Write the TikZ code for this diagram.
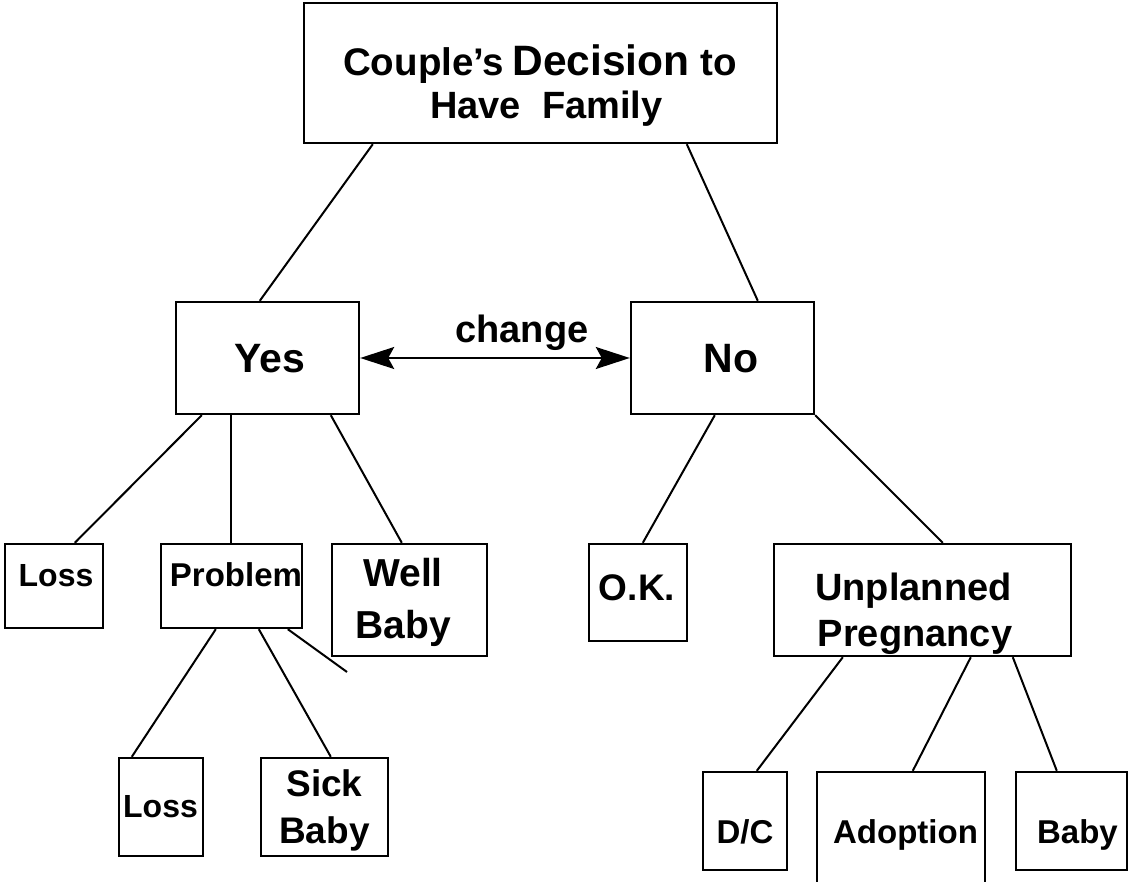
\documentclass[tikz,border=0pt]{standalone}
\usepackage{fontspec}
\setmainfont{Liberation Sans}
\usetikzlibrary{arrows.meta}
\tikzset{
  box/.style 2 args={draw, rectangle, line width=2.4pt, inner sep=0pt, minimum width=#1, minimum height=#2},
  lbl/.style={inner sep=0pt, anchor=base, font=\bfseries\fontsize{#1}{#1}\selectfont},
  conn/.style={line width=2pt},
  harrow/.style={line width=2pt, {Stealth[length=34pt,width=22pt,inset=6pt]}-{Stealth[length=34pt,width=22pt,inset=6pt]}}
}
\begin{document}
\begin{tikzpicture}[x=1pt,y=-1pt]
\useasboundingbox (0,0) rectangle (1128,882);
\clip (0,0) rectangle (1128,882);
\fill[white] (0,0) rectangle (1128,882);

% boxes
\node[box={473pt}{140pt}] (top) at (540.5,73) {};
\node[box={183pt}{112pt}] (yes) at (267.5,358) {};
\node[box={183pt}{112pt}] (no) at (722.5,358) {};
\node[box={98pt}{84pt}] (loss1) at (54,586) {};
\node[box={141pt}{84pt}] (problem) at (231.5,586) {};
\node[box={155pt}{112pt}] (well) at (409.5,600) {};
\node[box={84pt}{98pt}] (loss2) at (161,807) {};
\node[box={127pt}{98pt}] (sick) at (324.5,807) {};
\node[box={98pt}{97pt}] (ok) at (638,592.5) {};
\node[box={297pt}{112pt}] (up) at (922.5,600) {};
\node[box={84pt}{98pt}] (dc) at (745,821) {};
\node[box={168pt}{128pt}] (adoption) at (901,836) {};
\node[box={111pt}{98pt}] (baby) at (1071.5,821) {};
\coordinate (stray) at (347,672);

% texts
\node[lbl=38.5, anchor=base west] (t1) at (343,76) {Couple’s\hspace{8pt}{\fontsize{42.5}{42.5}\selectfont Decision} to};
\node[lbl=38, anchor=base west] (t2) at (430,119) {Have\ \ Family};
\node[lbl=41] (tyes) at (269.5,373) {Yes};
\node[lbl=41] (tno) at (731,373) {No};
\node[lbl=38] (tchange) at (522,343) {change};
\node[lbl=32] (tloss1) at (56,586) {Loss};
\node[lbl=33] (tproblem) at (236,586) {Problem};
\node[lbl=39] (twell) at (403,586) {Well};
\node[lbl=39] (twbaby) at (403.5,638) {Baby};
\node[lbl=32] (tloss2) at (160.5,817) {Loss};
\node[lbl=37] (tsick) at (324.5,796) {Sick};
\node[lbl=37] (tsbaby) at (324.5,843) {Baby};
\node[lbl=37] (tok) at (637,600) {O.K.};
\node[lbl=38] (tun) at (913.5,600) {Unplanned};
\node[lbl=38] (tpreg) at (915,646) {Pregnancy};
\node[lbl=33] (tdc) at (745,843) {D/C};
\node[lbl=33] (tadopt) at (905.5,843) {Adoption};
\node[lbl=33] (tbaby) at (1077.5,843) {Baby};

% connectors
\draw[conn] ([xshift=70pt]top.south west) -- ([xshift=85pt]yes.north west);
\draw[conn] ([xshift=384pt]top.south west) -- ([xshift=128pt]no.north west);
\draw[harrow] (yes.east) -- (no.west);
\draw[conn] ([xshift=27pt]yes.south west) -- ([xshift=71pt]loss1.north west);
\draw[conn] ([xshift=56pt]yes.south west) -- ([xshift=71pt]problem.north west);
\draw[conn] ([xshift=156pt]yes.south west) -- ([xshift=71pt]well.north west);
\draw[conn] ([xshift=56pt]problem.south west) -- ([xshift=14pt]loss2.north west);
\draw[conn] ([xshift=99pt]problem.south west) -- ([xshift=71pt]sick.north west);
\draw[conn] ([xshift=128pt]problem.south west) -- (stray);
\draw[conn] ([xshift=85pt]no.south west) -- ([xshift=55pt]ok.north west);
\draw[conn] (no.south east) -- ([xshift=170pt]up.north west);
\draw[conn] ([xshift=70pt]up.south west) -- ([xshift=55pt]dc.north west);
\draw[conn] ([xshift=198pt]up.south west) -- ([xshift=97pt]adoption.north west);
\draw[conn] ([xshift=240pt]up.south west) -- ([xshift=42pt]baby.north west);
\end{tikzpicture}
\end{document}
